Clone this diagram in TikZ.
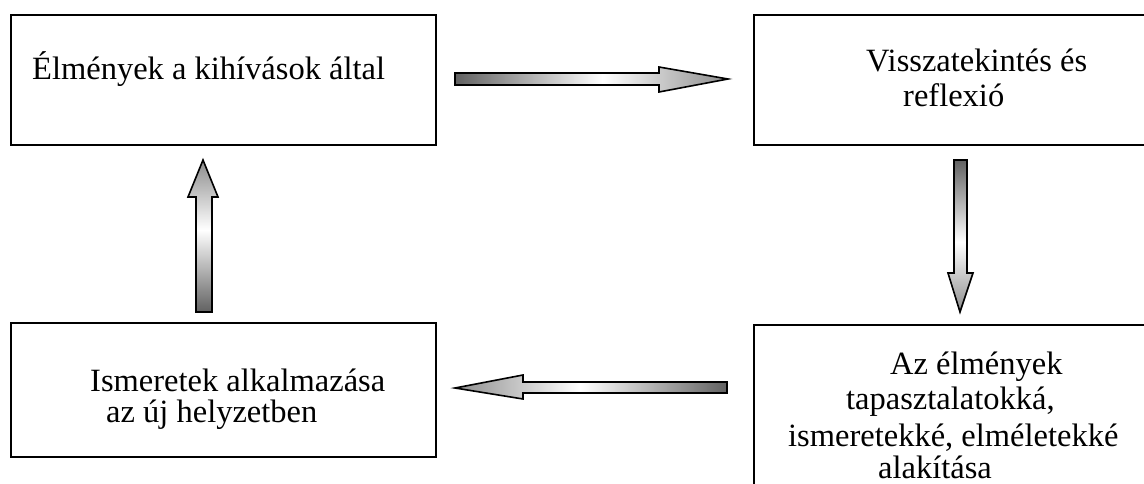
\documentclass[tikz,border=0pt]{standalone}
\usepackage{fontspec}
\setmainfont{Liberation Serif}
\usetikzlibrary{calc}
\pgfdeclarehorizontalshading{arrowshade}{100bp}{color(0bp)=(black!62); color(25bp)=(black!62); color(52bp)=(white); color(75bp)=(black!45); color(100bp)=(black!45)}
\begin{document}
\begin{tikzpicture}[x=1pt,y=-1pt,
  box/.style={draw=black,line width=2pt,inner sep=0pt,anchor=north west},
  lbl/.style={anchor=base west,inner sep=0pt,font=\fontsize{32.5}{38}\selectfont},
  blockarrow/.style={draw=black,line width=1.6pt,line join=miter,shading=arrowshade}]
\useasboundingbox (0,0) rectangle (1144,484);
\begin{scope}
\clip (0,0) rectangle (1144,484);
% boxes
\node[box,minimum width=425pt,minimum height=130pt] (b1) at (10,14) {};
\node[box,minimum width=450pt,minimum height=130pt] (b2) at (753,14) {};
\node[box,minimum width=425pt,minimum height=134pt] (b3) at (10,322) {};
\node[box,minimum width=450pt,minimum height=200pt] (b4) at (753,324) {};
\end{scope}
% labels
\node[lbl] (t1) at (32,80) {Élmények a kihívások által};
\node[lbl] (t2a) at (866,72) {Visszatekintés és};
\node[lbl] (t2b) at (903,107) {reflexió};
\node[lbl] (t3a) at (90,391) {Ismeretek alkalmazása};
\node[lbl] (t3b) at (106,422) {az új helyzetben};
\node[lbl] (t4a) at (890,374) {Az élmények};
\node[lbl] (t4b) at (846,409) {tapasztalatokká,};
\node[lbl] (t4c) at (788,446) {ismeretekké, elméletekké};
\node[lbl] (t4d) at (878,478) {alakítása};
% arrow anchor coordinates (tail centre)
\coordinate (a1) at (455,79);
\coordinate (a2) at (960,160);
\coordinate (a3) at (204,312);
\coordinate (a4) at (727,388);
% right arrow
\shadedraw[blockarrow] ($(a1)+(0,-6)$) -- ($(a1)+(204,-6)$) -- ($(a1)+(204,-12)$) -- ($(a1)+(273,0)$)
  -- ($(a1)+(204,13)$) -- ($(a1)+(204,6)$) -- ($(a1)+(0,6)$) -- cycle;
% down arrow
\shadedraw[blockarrow,shading angle=270] ($(a2)+(-6,0)$) -- ($(a2)+(-6,113)$) -- ($(a2)+(-12,113)$) -- ($(a2)+(0,152)$)
  -- ($(a2)+(13,113)$) -- ($(a2)+(7,113)$) -- ($(a2)+(7,0)$) -- cycle;
% up arrow
\shadedraw[blockarrow,shading angle=90] ($(a3)+(-8,0)$) -- ($(a3)+(-8,-115)$) -- ($(a3)+(-16,-115)$) -- ($(a3)+(-1,-152)$)
  -- ($(a3)+(14,-115)$) -- ($(a3)+(8,-115)$) -- ($(a3)+(8,0)$) -- cycle;
% left arrow
\shadedraw[blockarrow,shading angle=180] ($(a4)+(0,-6)$) -- ($(a4)+(-204,-6)$) -- ($(a4)+(-204,-13)$) -- ($(a4)+(-272,0)$)
  -- ($(a4)+(-204,11)$) -- ($(a4)+(-204,5)$) -- ($(a4)+(0,5)$) -- cycle;
\end{tikzpicture}
\end{document}
